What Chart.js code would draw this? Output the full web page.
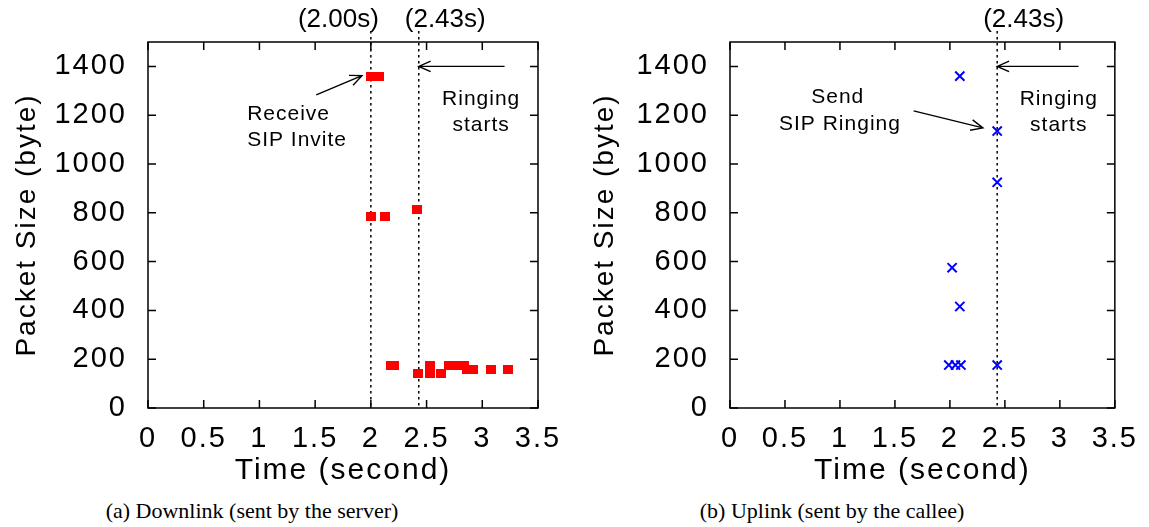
<!DOCTYPE html>
<html lang="en">
<head>
    <meta charset="UTF-8">
    <title>SIP call setup packets</title>
    <script src="https://cdn.jsdelivr.net/npm/chart.js"></script>
    <style>
        body { margin: 0; background: #fff; width: 1149px; height: 527px; position: relative; overflow: hidden; }
        canvas { position: absolute; top: 0; }
        #downlink { left: 0; }
        #uplink { left: 578px; }
        .caption { position: absolute; top: 498px; width: 400px; text-align: center;
                   font-family: "Liberation Serif", "Times New Roman", serif; font-size: 22px; color: #000; }
    </style>
</head>
<body>
    <canvas id="downlink" width="575" height="490"></canvas>
    <canvas id="uplink" width="571" height="490"></canvas>
    <div class="caption" style="left:52px">(a) Downlink (sent by the server)</div>
    <div class="caption" style="left:632px">(b) Uplink (sent by the callee)</div>

    <script>
        // axis ticks
        const xTicks = [0, 0.5, 1, 1.5, 2, 2.5, 3, 3.5];
        const yTicks = [0, 200, 400, 600, 800, 1000, 1200, 1400];

        // (a) downlink packets: time (s) and size (byte)
        const downTime = [2.00, 2.03, 2.07, 2.00, 2.13, 2.41, 2.18, 2.21, 2.42, 2.53, 2.53, 2.63, 2.70, 2.77, 2.84, 2.86, 2.92, 3.08, 3.23];
        const downSize = [1360, 1360, 1360, 785, 785, 815, 175, 175, 141, 175, 141, 141, 175, 175, 175, 159, 159, 159, 159];

        // (b) uplink packets
        const upTime = [2.09, 2.43, 2.43, 2.02, 2.09, 1.99, 2.05, 2.10, 2.43];
        const upSize = [1360, 1135, 925, 575, 416, 176, 176, 176, 176];

        // event markers (dotted lines)
        const downEvents = [2.00, 2.43];
        const downEventLabels = ["(2.00s)", "(2.43s)"];
        const upEvents = [2.43];
        const upEventLabels = ["(2.43s)"];

        const FONT = '"Liberation Sans", Arial, Helvetica, sans-serif';

        // red filled box used as the point marker of the downlink series
        const box = document.createElement('canvas');
        box.width = 10; box.height = 9;
        const bctx = box.getContext('2d');
        bctx.fillStyle = '#ff0000';
        bctx.fillRect(0, 0, 10, 9);

        function arrow(ctx, x0, y0, x1, y1) {
            const ang = Math.atan2(y1 - y0, x1 - x0), len = 13, spread = 0.42;
            ctx.beginPath();
            ctx.moveTo(x0, y0); ctx.lineTo(x1, y1);
            ctx.moveTo(x1 - len * Math.cos(ang - spread), y1 - len * Math.sin(ang - spread));
            ctx.lineTo(x1, y1);
            ctx.lineTo(x1 - len * Math.cos(ang + spread), y1 - len * Math.sin(ang + spread));
            ctx.stroke();
        }

        // gnuplot-like frame: box, inward ticks on all sides, dotted event lines, labels and arrows
        const gnuplotLook = {
            id: 'gnuplotLook',
            beforeDraw(chart) {
                // the original fonts are a little wider than Helvetica
                chart.ctx.letterSpacing = '2px';
            },
            beforeDatasetsDraw(chart, args, opts) {
                const { ctx, chartArea: a, scales: { x } } = chart;
                ctx.save();
                ctx.strokeStyle = '#000';
                ctx.lineWidth = 1.5;
                ctx.setLineDash([2.5, 3.5]);
                opts.events.forEach(t => {
                    const px = x.getPixelForValue(t);
                    ctx.beginPath(); ctx.moveTo(px, a.top - 11); ctx.lineTo(px, a.bottom); ctx.stroke();
                });
                ctx.setLineDash([]);
                ctx.fillStyle = '#000';
                ctx.letterSpacing = '0px';
                ctx.font = '26px ' + FONT;
                ctx.textBaseline = 'middle';
                opts.events.forEach((t, i) => {
                    const px = x.getPixelForValue(t);
                    const pos = opts.eventLabelPos[i];
                    ctx.textAlign = pos.align;
                    ctx.fillText(opts.eventLabels[i], px + pos.dx, 20);
                });
                ctx.restore();
            },
            afterDraw(chart, args, opts) {
                const { ctx, chartArea: a, scales: { x, y } } = chart;
                ctx.save();
                ctx.strokeStyle = '#000';
                ctx.lineWidth = 1.5;
                ctx.strokeRect(a.left, a.top, a.right - a.left, a.bottom - a.top);
                const tl = 8;
                ctx.beginPath();
                xTicks.forEach(v => {
                    const px = x.getPixelForValue(v);
                    ctx.moveTo(px, a.bottom); ctx.lineTo(px, a.bottom - tl);
                    ctx.moveTo(px, a.top); ctx.lineTo(px, a.top + tl);
                });
                yTicks.forEach(v => {
                    const py = y.getPixelForValue(v);
                    ctx.moveTo(a.left, py); ctx.lineTo(a.left + tl, py);
                    ctx.moveTo(a.right, py); ctx.lineTo(a.right - tl, py);
                });
                ctx.stroke();

                ctx.lineWidth = 1.4;
                opts.arrows.forEach(r => {
                    arrow(ctx, x.getPixelForValue(r[0]), y.getPixelForValue(r[1]),
                               x.getPixelForValue(r[2]), y.getPixelForValue(r[3]));
                });
                ctx.fillStyle = '#000';
                ctx.letterSpacing = '1px';
                ctx.font = '21px ' + FONT;
                ctx.textBaseline = 'middle';
                opts.notes.forEach(n => {
                    ctx.textAlign = n.align || 'center';
                    ctx.fillText(n.text, x.getPixelForValue(n.t), y.getPixelForValue(n.v));
                });
                ctx.restore();
            }
        };

        function makePanel(id, dataset, yWidth, padRight, look) {
            return new Chart(document.getElementById(id), {
                type: 'scatter',
                data: { datasets: [dataset] },
                plugins: [gnuplotLook],
                options: {
                    responsive: false,
                    animation: false,
                    devicePixelRatio: 1,
                    layout: { padding: { left: 0, top: 42, right: padRight, bottom: 0 } },
                    plugins: { legend: { display: false }, tooltip: { enabled: false }, gnuplotLook: look },
                    scales: {
                        x: {
                            type: 'linear', min: 0, max: 3.5,
                            afterBuildTicks: s => { s.ticks = xTicks.map(v => ({ value: v })); },
                            afterFit: s => { s.height = 82; },
                            grid: { display: false, drawTicks: false }, border: { display: false },
                            ticks: { color: '#000', font: { family: FONT, size: 29 }, padding: 14,
                                     maxRotation: 0, autoSkip: false, callback: v => String(v) },
                            title: { display: true, text: 'Time (second)', color: '#000',
                                     font: { family: FONT, size: 30 }, padding: { top: 0, bottom: 1 } }
                        },
                        y: {
                            type: 'linear', min: 0, max: 1500,
                            afterBuildTicks: s => { s.ticks = yTicks.map(v => ({ value: v })); },
                            afterFit: s => { s.width = yWidth; },
                            grid: { display: false, drawTicks: false }, border: { display: false },
                            ticks: { color: '#000', font: { family: FONT, size: 29 }, padding: 21,
                                     callback: v => String(v) },
                            title: { display: true, text: 'Packet Size (byte)', color: '#000',
                                     font: { family: FONT, size: 28 }, padding: { top: 10, bottom: 0 } }
                        }
                    }
                }
            });
        }

        makePanel('downlink', {
            data: downTime.map((t, i) => ({ x: t, y: downSize[i] })),
            pointStyle: box, pointRadius: 5, pointHoverRadius: 5
        }, 148, 37, {
            events: downEvents,
            eventLabels: downEventLabels,
            eventLabelPos: [{ align: 'right', dx: 8 }, { align: 'left', dx: -14 }],
            arrows: [[1.51, 1283, 1.92, 1362], [3.20, 1400, 2.43, 1400]],
            notes: [
                { text: 'Receive', t: 0.89, v: 1205, align: 'left' },
                { text: 'SIP Invite', t: 0.89, v: 1098, align: 'left' },
                { text: 'Ringing', t: 2.99, v: 1266 },
                { text: 'starts', t: 2.99, v: 1160 }
            ]
        });

        makePanel('uplink', {
            data: upTime.map((t, i) => ({ x: t, y: upSize[i] })),
            pointStyle: 'crossRot', pointRadius: 6.5, pointHoverRadius: 6.5,
            borderColor: '#0000ff', borderWidth: 2, backgroundColor: '#0000ff'
        }, 152, 33, {
            events: upEvents,
            eventLabels: upEventLabels,
            eventLabelPos: [{ align: 'left', dx: -14 }],
            arrows: [[1.67, 1218, 2.30, 1148], [3.17, 1400, 2.43, 1400]],
            notes: [
                { text: 'Send', t: 0.98, v: 1275 },
                { text: 'SIP Ringing', t: 1.00, v: 1164 },
                { text: 'Ringing', t: 2.99, v: 1266 },
                { text: 'starts', t: 2.99, v: 1160 }
            ]
        });
    </script>
</body>
</html>
